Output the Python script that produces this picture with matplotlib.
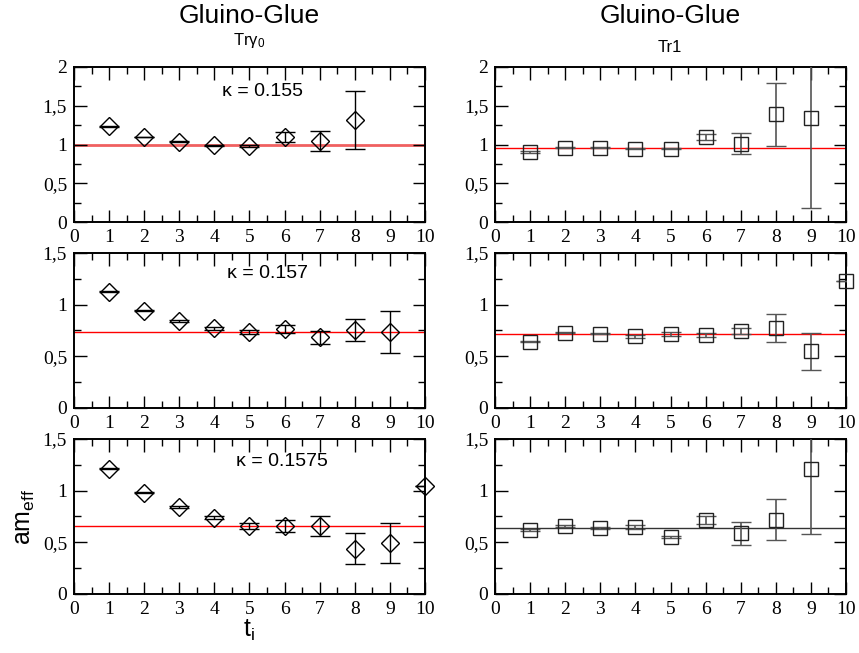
import os
import matplotlib
matplotlib.use("Agg")
import matplotlib.pyplot as plt
from matplotlib.ticker import MultipleLocator
from matplotlib import font_manager
from matplotlib.font_manager import FontProperties

def pick_serif():
    for name in ['Liberation Serif', 'Times New Roman', 'Nimbus Roman', 'TeX Gyre Termes',
                 'FreeSerif', 'Noto Serif', 'DejaVu Serif']:
        try:
            p = font_manager.findfont(FontProperties(family=name), fallback_to_default=False)
            if p and 'Sans' not in os.path.basename(p):
                return p
        except Exception:
            pass
    return os.path.join(matplotlib.get_data_path(), 'fonts', 'ttf', 'DejaVuSerif.ttf')

SERIF = FontProperties(fname=pick_serif(), size=14)

plt.rcParams['mathtext.fontset'] = 'custom'
plt.rcParams['mathtext.rm'] = 'Liberation Sans'
plt.rcParams['mathtext.it'] = 'Liberation Sans:italic'

t = [1, 2, 3, 4, 5, 6, 7, 8, 9, 10]
xticks = [0, 1, 2, 3, 4, 5, 6, 7, 8, 9, 10]
yticks_top = [0, 0.5, 1, 1.5, 2]
ytick_labels_top = ["0", "0,5", "1", "1,5", "2"]
yticks_low = [0, 0.5, 1, 1.5]
ytick_labels_low = ["0", "0,5", "1", "1,5"]

# Left column: Tr gamma_0 (diamonds)
k155_y = [1.234, 1.097, 1.037, 0.989, 0.98, 1.097, 1.045, 1.312]
k155_e = [0.005, 0.005, 0.01, 0.01, 0.015, 0.06, 0.133, 0.375]
k155_fit = 0.99

k157_y = [1.123, 0.942, 0.845, 0.771, 0.735, 0.765, 0.684, 0.752, 0.735]
k157_e = [0.005, 0.005, 0.01, 0.015, 0.015, 0.04, 0.065, 0.108, 0.2]
k157_fit = 0.739

k1575_y = [1.21, 0.981, 0.845, 0.739, 0.658, 0.655, 0.655, 0.439, 0.494, 1.042]
k1575_e = [0.005, 0.005, 0.01, 0.015, 0.03, 0.06, 0.097, 0.15, 0.19, 0.0]
k1575_fit = 0.658

# Right column: Tr1 (squares)
r155_y = [0.903, 0.959, 0.959, 0.946, 0.946, 1.097, 1.01, 1.389, 1.338]
r155_e = [0.01, 0.005, 0.005, 0.01, 0.01, 0.04, 0.133, 0.41, 1.153]
r155_fit = 0.96

r157_y = [0.639, 0.729, 0.719, 0.694, 0.719, 0.703, 0.742, 0.774, 0.548, 1.229]
r157_e = [0.005, 0.005, 0.005, 0.015, 0.02, 0.02, 0.03, 0.14, 0.18, 0.0]
r157_fit = 0.72

r1575_y = [0.619, 0.658, 0.639, 0.648, 0.552, 0.713, 0.587, 0.719, 1.213]
r1575_e = [0.005, 0.01, 0.01, 0.02, 0.01, 0.04, 0.11, 0.2, 0.63]
r1575_fit = 0.642

kappas = ["κ = 0.155", "κ = 0.157", "κ = 0.1575"]
kappa_pos = [(5.38, 1.69), (5.5, 1.306), (5.93, 1.277)]

left = [(k155_y, k155_e, k155_fit), (k157_y, k157_e, k157_fit), (k1575_y, k1575_e, k1575_fit)]
right = [(r155_y, r155_e, r155_fit), (r157_y, r157_e, r157_fit), (r1575_y, r1575_e, r1575_fit)]
ylims = [2.0, 1.5, 1.5]

fig = plt.figure(figsize=(8.59, 6.53), dpi=100)

W, H = 0.4086, 0.2374
lefts = [0.0861, 0.5763]
bottoms = [0.660, 0.3752, 0.0904]

SANS = 'Liberation Sans'

def style(ax, i):
    ymax = ylims[i]
    ax.set_xlim(0, 10)
    ax.set_ylim(0, ymax)
    ax.set_xticks(xticks, [str(v) for v in xticks], fontproperties=SERIF)
    if i == 0:
        ax.set_yticks(yticks_top, ytick_labels_top, fontproperties=SERIF)
    else:
        ax.set_yticks(yticks_low, ytick_labels_low, fontproperties=SERIF)
    ax.xaxis.set_minor_locator(MultipleLocator(0.5))
    ax.yaxis.set_minor_locator(MultipleLocator(0.25))
    ax.tick_params(which='both', direction='in', top=True, right=True, width=1.0)
    ax.tick_params(which='major', length=9, pad=5)
    ax.tick_params(which='minor', length=5)
    for s in ax.spines.values():
        s.set_linewidth(1.4)

def draw(ax, x, y, e, marker, ms, mec, ecol, elw):
    line, caps, bars = ax.errorbar(x, y, yerr=e, fmt=marker, mfc='none', mec=mec, ms=ms,
                                   mew=1.0, ecolor=ecol, elinewidth=elw, capsize=7,
                                   capthick=elw, zorder=3)
    line.set_clip_on(False)

fit_colors_left = ['#f06060', 'red', 'red']
fit_lw_left = [2.0, 1.0, 1.0]
fit_colors_right = ['red', 'red', '#333333']

for i in range(3):
    ax = fig.add_axes([lefts[0], bottoms[i], W, H])
    y, e, f = left[i]
    x = t[:len(y)]
    ax.axhline(f, color=fit_colors_left[i], lw=fit_lw_left[i], zorder=1)
    draw(ax, x, y, e, 'D', 9, 'black', 'black', 1.0)
    style(ax, i)
    ax.text(kappa_pos[i][0], kappa_pos[i][1], kappas[i], ha='center', va='center',
            fontsize=14, family=SANS)
    if i == 2:
        ax.set_ylabel("am$_{\\mathrm{eff}}$", fontsize=18, family=SANS, labelpad=4)
        ax.set_xlabel("t$_{\\mathrm{i}}$", fontsize=18, family=SANS, labelpad=0)

    ax = fig.add_axes([lefts[1], bottoms[i], W, H])
    y, e, f = right[i]
    x = t[:len(y)]
    ax.axhline(f, color=fit_colors_right[i], lw=1.0, zorder=1)
    draw(ax, x, y, e, 's', 10, '#222222', '#555555', 1.2)
    style(ax, i)

fig.text(0.29, 0.975, "Gluino-Glue", ha='center', va='center', fontsize=19, family=SANS)
fig.text(0.29, 0.938, "Trγ$_0$", ha='center', va='center', fontsize=12, family=SANS)
fig.text(0.78, 0.975, "Gluino-Glue", ha='center', va='center', fontsize=19, family=SANS)
fig.text(0.78, 0.928, "Tr1", ha='center', va='center', fontsize=12, family=SANS)

fig.savefig("out.png", dpi=100)
